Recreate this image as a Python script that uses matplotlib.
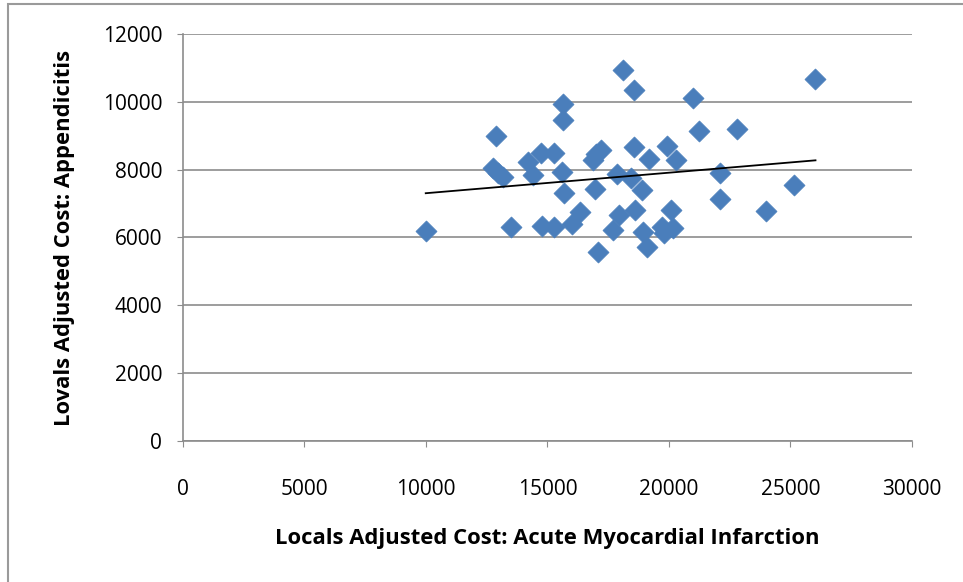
import matplotlib
matplotlib.use("Agg")
import matplotlib.pyplot as plt
import numpy as np
from matplotlib.patches import Rectangle

ami_cost = [9990, 12880, 12770, 13180, 12950, 13480, 14210, 14390, 14720, 15270,
            15650, 15650, 15580, 15690, 14760, 15270, 15990, 16330, 16860, 17000,
            17200, 16970, 17100, 17870, 18420, 18570, 18900, 19190, 19930, 20300,
            18100, 18550, 21000, 26030, 21230, 22790, 22100, 25160, 22080, 18600,
            17960, 20080, 24000, 17700, 18940, 19700, 19790, 20150, 19080]
app_cost = [6200, 9000, 8040, 7790, 7900, 6320, 8240, 7840, 8480, 8500,
            9930, 9460, 7940, 7300, 6350, 6320, 6400, 6760, 8280, 8450,
            8580, 7420, 5580, 7870, 7760, 8660, 7400, 8310, 8700, 8280,
            10940, 10350, 10100, 10670, 9150, 9210, 7910, 7540, 7130, 6810,
            6660, 6810, 6790, 6220, 6170, 6320, 6120, 6270, 5730]

x_ticks = [0, 5000, 10000, 15000, 20000, 25000, 30000]
y_ticks = [0, 2000, 4000, 6000, 8000, 10000, 12000]

plt.rcParams['font.family'] = ['Open Sans', 'DejaVu Sans']

fig = plt.figure(figsize=(9.63, 5.82), dpi=100)
fig.patches.append(Rectangle((8 / 963, -0.05), 1.2, 1.05 - 4 / 582, transform=fig.transFigure,
                             fill=False, edgecolor='#9a9a9a', linewidth=1.5))
ax = fig.add_axes([0.190, 0.2423, 0.757, 0.6993])

x = np.array(ami_cost)
y = np.array(app_cost)
ax.scatter(x, y, marker='D', s=115, color='#4A7EBB', edgecolors='#4A7EBB', linewidths=0.5, zorder=3)

m, b = np.polyfit(x, y, 1)
xs = np.array([x.min(), x.max()])
ax.plot(xs, m * xs + b, color='black', linewidth=1.3, zorder=4)

ax.set_xlim(0, 30000)
ax.set_ylim(0, 12000)
ax.set_xticks(x_ticks)
ax.set_yticks(y_ticks)
ax.yaxis.grid(True, color='#8c8c8c', linewidth=1.2)
ax.set_axisbelow(True)
for s in ['top', 'right']:
    ax.spines[s].set_visible(False)
for s in ['left', 'bottom']:
    ax.spines[s].set_color('#8c8c8c')
    ax.spines[s].set_linewidth(1.2)
ax.tick_params(axis='x', length=4.5, color='#8c8c8c', pad=23, labelsize=15)
ax.tick_params(axis='y', length=4.5, color='#8c8c8c', pad=10.5, labelsize=15)

ax.set_xlabel('Locals Adjusted Cost: Acute Myocardial Infarction', fontsize=15.8,
              fontweight='bold', labelpad=20)
ax.set_ylabel('Lovals Adjusted Cost: Appendicitis', fontsize=15.8, fontweight='bold',
              labelpad=20)

fig.savefig('out.png', dpi=100)
